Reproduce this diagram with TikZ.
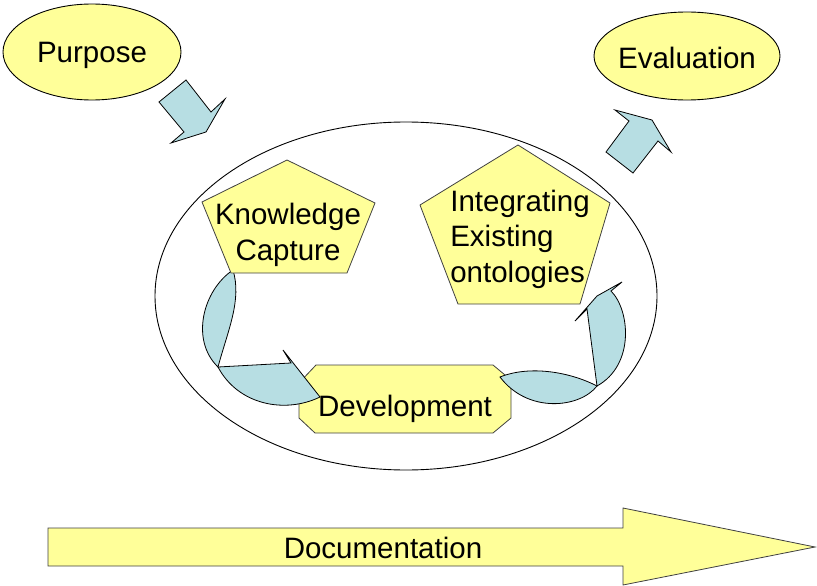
\documentclass[tikz,border=0pt]{standalone}
\usepackage{fontspec}
\setmainfont{Liberation Sans}
\usetikzlibrary{shapes.geometric}
\definecolor{ylw}{RGB}{255,255,153}
\definecolor{blu}{RGB}{183,222,227}
\begin{document}
\begin{tikzpicture}[x=1pt,y=-1pt,
  lbl/.style={font=\fontsize{29.5}{35.5}\selectfont, inner sep=0pt, align=center},
  yshape/.style={fill=ylw, draw=black!75, line width=0.8pt, line join=miter},
  bshape/.style={fill=blu, draw=black, line width=0.8pt, line join=miter},
  oval/.style={ellipse, draw=black, line width=0.9pt, inner sep=0pt}]
\useasboundingbox (0,0) rectangle (817,586);

% big surrounding ellipse
\node[oval, minimum width=502pt, minimum height=348pt] (cyc) at (406,296) {};

% Purpose / Evaluation
\node[oval, fill=ylw, minimum width=178pt, minimum height=96pt] (purpose) at (92,52) {};
\node[lbl] (purposet) at (92,55) {Purpose};
\node[oval, fill=ylw, minimum width=186pt, minimum height=88pt] (evaluation) at (687,56) {};
\node[lbl] (evaluationt) at (687,58) {Evaluation};

% block arrows
\draw[bshape] (159,102) -- (186,80) -- (211,112) -- (225,99) -- (206,132) -- (171,143) -- (184,132) -- cycle;
\draw[bshape] (606,152) -- (629,121) -- (615,110) -- (652,120) -- (671,152) -- (658,141) -- (633,173) -- cycle;

% Development
\draw[yshape] (316,365) -- (493,365) -- (511,380) -- (511,418) -- (493,433) -- (315,433) -- (299,418) -- (299,383) -- cycle;
\node[lbl] (dev) at (405,409) {Development};

% curved arrow left
\draw[bshape] (233,270) .. controls (203,290) and (190,340) .. (218,367) .. controls (228,330) and (242,300) .. (233,270) -- cycle;
\draw[bshape] (218,367) -- (291,363) -- (283,350) -- (294,364) -- (320,397) .. controls (285,414) and (238,405) .. (218,367) -- cycle;

% curved arrow right
\draw[bshape] (500,377) .. controls (530,365) and (570,372) .. (597,386) .. controls (580,408) and (528,414) .. (500,377) -- cycle;
\draw[bshape] (597,386) -- (587,309) -- (575,321) -- (597,296) -- (622,282) -- (611,291) .. controls (630,310) and (635,365) .. (597,386) -- cycle;

% pentagons
\draw[yshape] (287,160) -- (375,203) -- (347,273) -- (231,273) -- (202,202) -- cycle;
\node[lbl] (kc) at (288,235) {Knowledge\\Capture};
\draw[yshape] (518,145) -- (610,203) -- (580,304) -- (458,304) -- (420,205) -- cycle;
\node[lbl, align=left] (ieo) at (520,239) {Integrating\\Existing\\ontologies};

% Documentation arrow
\draw[yshape] (48,528) -- (623,528) -- (623,508) -- (815,547) -- (623,585) -- (623,566) -- (48,566) -- cycle;
\node[lbl] (doc) at (383,548) {Documentation};
\end{tikzpicture}
\end{document}
